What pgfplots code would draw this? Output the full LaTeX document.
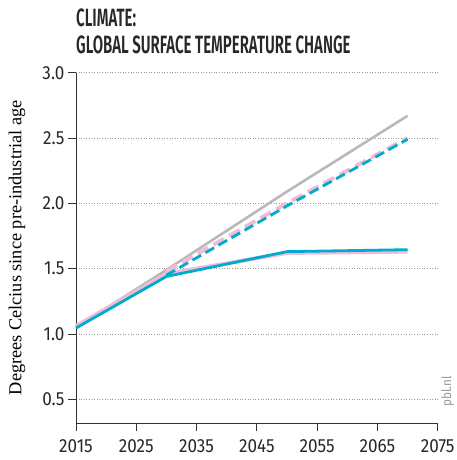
\documentclass[border=0pt]{standalone}
\usepackage{pgfplots}
\pgfplotsset{compat=1.18}
\usepackage{fontspec}
\setmainfont{Liberation Serif}
\newfontfamily\tickfont[FakeStretch=0.9]{Fira Sans}
\newfontfamily\titlefont[FakeStretch=0.6]{Fira Sans SemiBold}
\definecolor{cgray}{RGB}{185,185,185}
\definecolor{cpink}{RGB}{243,186,214}
\definecolor{cblue}{RGB}{0,172,205}
\definecolor{ctxt}{RGB}{40,40,40}
\begin{document}
\begin{tikzpicture}
\useasboundingbox (0pt,0pt) rectangle (456pt,460pt);
\node[anchor=north west,inner sep=0pt,align=left,font=\titlefont\fontsize{25}{27}\selectfont,text=ctxt] at (76pt,451pt) {CLIMATE:\\GLOBAL SURFACE TEMPERATURE CHANGE};
\begin{axis}[
  at={(76pt,37pt)}, anchor=origin,
  scale only axis, width=361.7pt, height=350.3pt,
  xmin=2015, xmax=2075, ymin=0.318, ymax=3.0,
  xtick={2015,2025,...,2075},
  ytick={0.5,1.0,...,3.0},
  xticklabel style={/pgf/number format/1000 sep={}, yshift=-5pt},
  yticklabel style={/pgf/number format/.cd,fixed,fixed zerofill,precision=1},
  /pgf/number format/assume math mode=true,
  ticklabel style={font=\tickfont\fontsize{19}{19}\selectfont, text=ctxt},
  axis x line*=bottom, axis y line*=left,
  axis line style={black!80, line width=0.8pt, -},
  tick style={black!80, line width=0.8pt},
  tick align=outside, major tick length=8pt,
  ymajorgrids, grid style={dash pattern=on 0.8pt off 1.8pt, black!40, line width=0.6pt},
  ylabel={Degrees Celcius since pre-industrial age},
  ylabel style={font=\fontsize{18.3}{18.3}\selectfont, at={(axis description cs:-0.163,0.5)}, anchor=center},
  clip=false,
]
\addplot[cgray, line width=2.6pt] coordinates {(2015,1.05) (2030,1.49) (2050,2.09) (2070,2.67)};
\addplot[cpink, line width=4pt] coordinates {(2015,1.06) (2030,1.46) (2050,1.62) (2070,1.63)};
\addplot[cpink, line width=4pt, dash pattern=on 12pt off 6pt] coordinates {(2030,1.48) (2050,2.00) (2070,2.50)};
\addplot[cblue, line width=2.8pt] coordinates {(2015,1.045) (2030,1.44) (2050,1.63) (2070,1.645)};
\addplot[cblue, line width=2.8pt, dash pattern=on 10pt off 5pt] coordinates {(2030,1.45) (2050,1.98) (2070,2.49)};
\end{axis}
\node[rotate=90, anchor=south west, inner sep=0pt, font=\tickfont\fontsize{13}{13}\selectfont, text=black!40] at (454pt,53pt) {pbl.nl};
\end{tikzpicture}
\end{document}
